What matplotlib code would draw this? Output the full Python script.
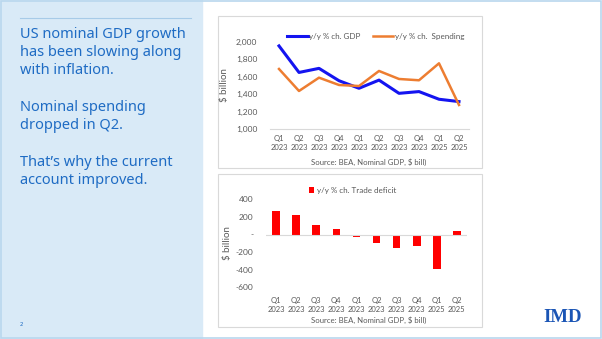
import matplotlib.pyplot as plt
from matplotlib.patches import Rectangle
from matplotlib.ticker import FuncFormatter

# quarter labels as they appear on the slide
quarters = ["Q1\n2023", "Q2\n2023", "Q3\n2023", "Q4\n2023", "Q1\n2023",
            "Q2\n2023", "Q3\n2023", "Q4\n2023", "Q1\n2025", "Q2\n2025"]

# $ billion, y/y change
gdp = [1955, 1650, 1697, 1555, 1468, 1562, 1410, 1430, 1342, 1315]
spending = [1690, 1437, 1590, 1506, 1494, 1667, 1575, 1560, 1755, 1276]
trade_deficit = [267, 218, 108, 59, -25, -100, -157, -131, -395, 40]

W, H = 602, 339
fig = plt.figure(figsize=(W / 100, H / 100), dpi=100)
fig.patch.set_facecolor("white")

def px(x, y, w, h):
    # pixel box (top-left origin) -> figure fraction
    return [x / W, 1 - (y + h) / H, w / W, h / H]

bg = fig.add_axes([0, 0, 1, 1])
bg.set_xlim(0, W)
bg.set_ylim(H, 0)
bg.axis("off")

# left text panel
bg.add_patch(Rectangle((0, 0), 202, H, color="#d9eaf7", zorder=0))
bg.plot([20, 191], [18, 18], color="#a7cbe8", lw=0.8)
note = ("US nominal GDP growth\nhas been slowing along\nwith inflation.\n\n"
        "Nominal spending\ndropped in Q2.\n\n"
        "That\u2019s why the current\naccount improved.")
bg.text(20, 26.5, note, color="#1f6cc4", fontsize=10.5, family="Noto Sans",
        va="top", ha="left", linespacing=1.3)
bg.text(20, 324, "2", color="#1f6cc4", fontsize=4, va="center")
bg.text(563, 318, "IMD", color="#1b55b5", fontsize=13.5, family="Liberation Serif",
        weight="bold", ha="center", va="center")
bg.add_patch(Rectangle((0.5, 0.5), W - 1.5, H - 1.5, fill=False,
                       ec="#b9d7ee", lw=1.2))

# chart frames
for (x0, y0, x1, y1) in [(218, 16, 482, 168), (218, 174, 482, 327)]:
    bg.add_patch(Rectangle((x0, y0), x1 - x0, y1 - y0, fc="white",
                           ec="#d9d9d9", lw=0.8))

grey = "#595959"
tick_font = dict(fontsize=5.6, color=grey, family="Lato")
xs = list(range(len(quarters)))

# top: GDP vs spending lines
ax1 = fig.add_axes(px(270, 42, 199, 87))
ax1.plot(xs, gdp, color="#1414f0", lw=2.2, label="y/y % ch. GDP")
ax1.plot(xs, spending, color="#ed7d31", lw=1.8, label="y/y % ch.  Spending")
ax1.set_xlim(-0.45, 9.5)
ax1.set_ylim(1000, 2000)
ax1.set_yticks(range(1000, 2001, 200))
ax1.yaxis.set_major_formatter(FuncFormatter(lambda v, p: f"{v:,.0f}"))
ax1.set_xticks(xs)
ax1.set_xticklabels(quarters, linespacing=1.35)
ax1.set_ylabel("$ billion", fontsize=7, color=grey, family="Lato", labelpad=5)
ax1.legend(loc="center", bbox_to_anchor=(0.53, 1.06), ncol=2, frameon=False,
           prop=dict(family="Lato", size=5.8), labelcolor=grey,
           handlelength=2.6, handletextpad=0.15, columnspacing=1.5)

# bottom: trade deficit bars
ax2 = fig.add_axes(px(266, 199.3, 201, 88))
ax2.bar(xs, trade_deficit, width=0.38, color="#ff0000",
        label="y/y % ch. Trade deficit")
ax2.axhline(0, color="#d9d9d9", lw=0.8)
ax2.set_xlim(-0.5, 9.5)
ax2.set_ylim(-600, 400)
ax2.set_yticks(range(-600, 401, 200))
ax2.yaxis.set_major_formatter(FuncFormatter(lambda v, p: "-" if v == 0 else f"{v:,.0f}"))
ax2.set_xticks(xs)
ax2.set_xticklabels(quarters, linespacing=1.35)
ax2.set_ylabel("$ billion", fontsize=7, color=grey, family="Lato", labelpad=3)
ax2.legend(loc="center", bbox_to_anchor=(0.43, 1.1), frameon=False,
           prop=dict(family="Lato", size=5.8), labelcolor=grey,
           handlelength=0.7, handleheight=0.7, handletextpad=0.3)

for ax in (ax1, ax2):
    ax.set_facecolor("none")
    for s in ("top", "right", "left"):
        ax.spines[s].set_visible(False)
    ax.tick_params(length=0, labelcolor=grey, pad=4)
    ax.tick_params(axis="x", labelsize=5.5)
    ax.tick_params(axis="y", labelsize=6, pad=9)
    for lab in ax.get_xticklabels() + ax.get_yticklabels():
        lab.set_family("Lato")
ax1.spines["bottom"].set_color("#d9d9d9")
ax2.spines["bottom"].set_visible(False)
ax2.tick_params(axis="x", pad=7)

src = "Source: BEA, Nominal GDP, $ bill)"
bg.text(369, 162, src, ha="center", va="center", **tick_font)
bg.text(369, 320, src, ha="center", va="center", **tick_font)

fig.savefig("out.png", dpi=100)
